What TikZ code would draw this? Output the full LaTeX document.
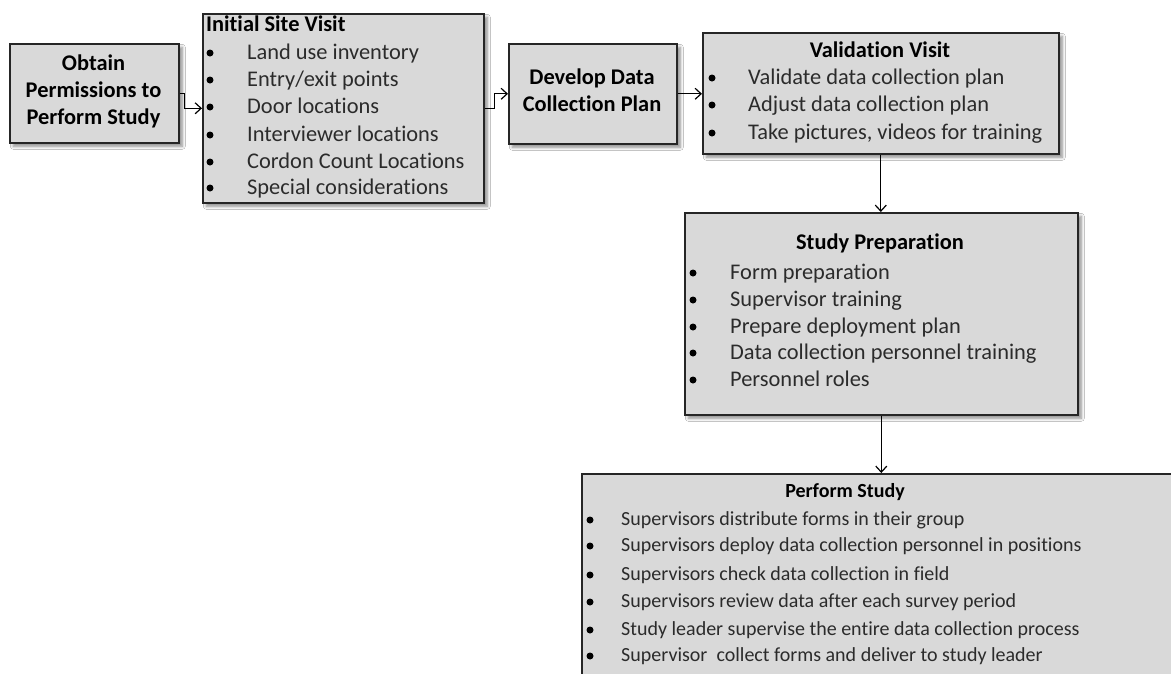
\documentclass[tikz,border=0pt]{standalone}
\usepackage{fontspec}
\setmainfont{Carlito}[Ligatures=NoCommon]
\usetikzlibrary{arrows.meta,shadows.blur}
\definecolor{boxfill}{HTML}{D9D9D9}
\definecolor{boxline}{HTML}{262626}
\definecolor{bodytext}{HTML}{2B2B2B}
\newcommand\mainsize{\fontsize{22.4}{27.5}\selectfont}
\newcommand\smallsize{\fontsize{20}{27.5}\selectfont}
\tikzset{
  stepbox/.style={draw=boxline, line width=1.6pt, fill=boxfill, inner sep=0pt,
    anchor=north west, rectangle,
    blur shadow={shadow xshift=3.5pt, shadow yshift=-3.5pt, shadow blur radius=3pt, shadow opacity=45}},
  ttl/.style={font=\mainsize\bfseries, text=black, inner sep=0pt, anchor=base, yshift=-6.3pt},
  ttlw/.style={font=\mainsize\bfseries, text=black, inner sep=0pt, anchor=base west, yshift=-6.3pt},
  itm/.style={font=\mainsize, text=bodytext, inner sep=0pt, anchor=base west, yshift=-6.3pt},
  smallitm/.style={itm, font=\smallsize, yshift=1pt},
  dot/.style={circle, fill=black, inner sep=0pt, minimum size=7pt},
  flow/.style={draw=black, line width=1.2pt, -{Straight Barb[length=6pt,width=11pt,line width=1.2pt]}}
}
\begin{document}
\begin{tikzpicture}[x=1pt,y=-1pt]
\useasboundingbox[fill=white] (0,0) rectangle (1171,673);

% boxes
\node[stepbox, minimum width=169pt, minimum height=99pt]  (A) at (9,43) {};
\node[stepbox, minimum width=281pt, minimum height=189pt] (B) at (202,13) {};
\node[stepbox, minimum width=168pt, minimum height=100pt] (C) at (508,43) {};
\node[stepbox, minimum width=356pt, minimum height=121pt] (D) at (702,32) {};
\node[stepbox, minimum width=393pt, minimum height=202pt] (E) at (684,212) {};
\node[stepbox, minimum width=640pt, minimum height=240pt] (F) at (581,473) {};

% Obtain permissions
\node[ttl] (a1) at (93.5,64) {Obtain};
\node[ttl] (a2) at (93.5,91) {Permissions to};
\node[ttl] (a3) at (93.5,118) {Perform Study};

% Initial site visit
\node[ttlw] (bt) at (206,25) {Initial Site Visit};
\foreach \y/\t [count=\i] in {53/Land use inventory, 80/Entry\slash exit points, 107/Door locations,
    135/Interviewer locations, 162/Cordon Count Locations, 188/Special considerations}{
  \node[dot] (bd\i) at (210,\y) {};
  \node[itm] (bi\i) at (247,\y) {\t};
}

% Develop data collection plan
\node[ttl] (c1) at (592,78) {Develop Data};
\node[ttl] (c2) at (592,105) {Collection Plan};

% Validation visit
\node[ttl] (dt) at (880,51) {Validation Visit};
\foreach \y/\t [count=\i] in {78/Validate data collection plan, 105/Adjust data collection plan,
    133/{Take pictures, videos for training}}{
  \node[dot] (dd\i) at (712,\y) {};
  \node[itm] (di\i) at (748,\y) {\t};
}

% Study preparation
\node[ttl] (et) at (880,243) {Study Preparation};
\foreach \y/\t [count=\i] in {273/Form preparation, 300/Supervisor training, 327/Prepare deployment plan,
    353/Data collection personnel training, 380/Personnel roles}{
  \node[dot] (ed\i) at (693,\y) {};
  \node[itm] (ei\i) at (730,\y) {\t};
}

% Perform study
\node[ttl, font=\smallsize\bfseries, yshift=1pt] (ft) at (845,492) {Perform Study};
\foreach \y/\t [count=\i] in {520/Supervisors distribute forms in their group,
    546/Supervisors deploy data collection personnel in positions,
    575/Supervisors check data collection in field,
    602/Supervisors review data after each survey period,
    630/Study leader supervise the entire data collection process,
    656/Supervisor\ \ collect forms and deliver to study leader}{
  \node[dot] (fd\i) at (590,\y) {};
  \node[smallitm] (fi\i) at (621,\y) {\t};
}

% connectors
\draw[flow] (A.east) -- ++(5,0) |- (B.west);
\draw[flow] (B.east) -- ++(10,0) |- (C.west);
\draw[flow] (C.east) -- (C.east -| D.west);
\draw[flow] (D.south) -- (D.south |- E.north);
\draw[flow] (E.south) -- (E.south |- F.north);
\end{tikzpicture}
\end{document}
